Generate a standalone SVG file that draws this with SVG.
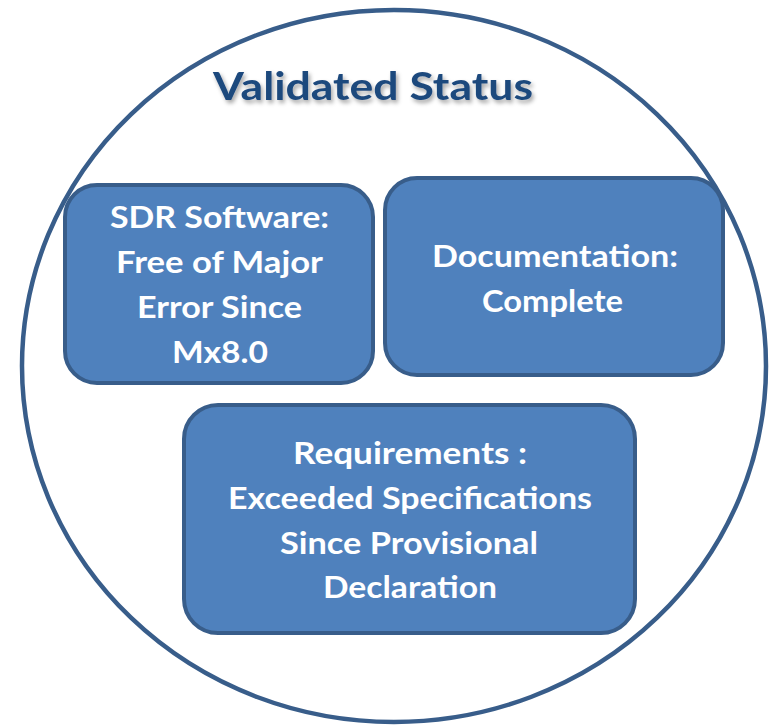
<svg xmlns="http://www.w3.org/2000/svg" width="769" height="727" viewBox="0 0 769 727">
  <style>
    .box { fill: #4F81BD; stroke: #385D8A; stroke-width: 4; }
    .lbl { font-family: Lato, "Open Sans", "Liberation Sans", sans-serif; font-weight: bold; font-size: 30px; fill: #FFFFFF; text-anchor: middle; }
    .title { font-family: Lato, "Open Sans", "Liberation Sans", sans-serif; font-weight: bold; font-size: 39px; fill: #1F497D; text-anchor: middle; }
  </style>
  <defs>
    <filter id="shadow" x="-10%" y="-30%" width="120%" height="160%">
      <feDropShadow dx="2" dy="3" stdDeviation="2" flood-color="#000000" flood-opacity="0.35"/>
    </filter>
  </defs>
  <rect width="769" height="727" fill="#FFFFFF"/>
  <g id="outer">
    <ellipse cx="394" cy="366" rx="372" ry="356" fill="#FFFFFF" stroke="#385D8A" stroke-width="4.5"/>
    <text class="title" x="373" y="100" textLength="320" lengthAdjust="spacingAndGlyphs" filter="url(#shadow)">Validated Status</text>
  </g>
  <g id="connectors"></g>
  <g id="sdr">
    <rect class="box" x="65" y="185" width="308" height="198" rx="32" ry="32"/>
    <text class="lbl" x="219.5" y="228" textLength="219" lengthAdjust="spacingAndGlyphs">SDR Software:</text>
    <text class="lbl" x="219.5" y="273" textLength="207" lengthAdjust="spacingAndGlyphs">Free of Major</text>
    <text class="lbl" x="219.5" y="318" textLength="165" lengthAdjust="spacingAndGlyphs">Error Since</text>
    <text class="lbl" x="220" y="363" textLength="96" lengthAdjust="spacingAndGlyphs">Mx8.0</text>
  </g>
  <g id="documentation">
    <rect class="box" x="385" y="178" width="338" height="197" rx="32" ry="32"/>
    <text class="lbl" x="555" y="267" textLength="246" lengthAdjust="spacingAndGlyphs">Documentation:</text>
    <text class="lbl" x="552.5" y="312" textLength="141" lengthAdjust="spacingAndGlyphs">Complete</text>
  </g>
  <g id="requirements">
    <rect class="box" x="184" y="405" width="451" height="228" rx="34" ry="34"/>
    <text class="lbl" x="410" y="464" textLength="234" lengthAdjust="spacingAndGlyphs">Requirements :</text>
    <text class="lbl" x="410" y="509" textLength="364" lengthAdjust="spacingAndGlyphs">Exceeded Specifications</text>
    <text class="lbl" x="409" y="554" textLength="258" lengthAdjust="spacingAndGlyphs">Since Provisional</text>
    <text class="lbl" x="410" y="598" textLength="174" lengthAdjust="spacingAndGlyphs">Declaration</text>
  </g>
</svg>
